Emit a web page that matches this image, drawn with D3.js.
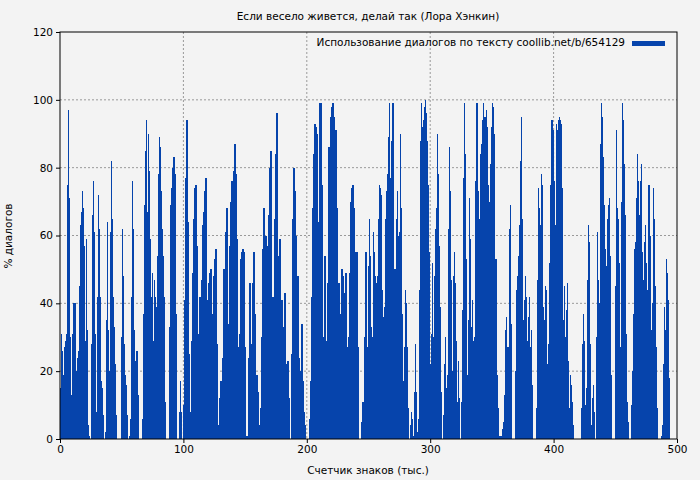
<!DOCTYPE html>
<html><head><meta charset="utf-8">
<script src="https://cdn.jsdelivr.net/npm/d3@7"></script>
<style>body{margin:0;background:#f3f3f3;font-family:"DejaVu Sans",sans-serif}</style>
</head><body><svg id="c" width="700" height="480"></svg>
<script>
// % of dialogue per sample along text (~0.81k chars per sample)
const part1=[15,31,26,19,27,29,31,75,97,71,30,13,31,40,40,40,20,24,26,45,63,67,73,68,57,29,59,32,4,1,0,28,66,76,61,31,8,42,72,62,42,17,15,7,0,2,35,64,32,20,61,82,65,42,33,22,7,0,0,0,0,30,62,48,28,19,16,7,0,1,6,42,76,62,32,23,26,26,13,0,0,0,6,37,69,85,94,67,90,79,59,42,49,29,47,42,39,54,78,89,86,73];
const part2=[62,54,42,11,0,0,0,33,69,74,80,83,83,78,37,0,0,8,17,8,0,10,41,77,94,64,25,8,8,29,49,65,74,75,57,19,31,42,41,47,63,67,73,77,41,29,46,49,50,32,37,48,53,56,28,0,4,12,17,8,24,50,46,61,68,34,25,57,70,76,58,79,87,78,59,27,7,31,53,55,56,55,27,1,0,1,24,46,23,28,46,55,37,14,19,14,4,0,9,30,56,68,50];
const part3=[60,57,57,66,80,85,42,14,42,65,84,96,54,47,59,30,41,22,33,43,22,11,23,12,0,0,25,65,80,73,60,45,48,24,5,20,34,17,8,4,0,0,0,0,6,17,42,68,84,93,92,90,53,64,99,99,75,27,30,54,29,6,46,86,84,95,98,99,95,86,91,68,46,46,23,37,50,48,43,27,49,27,23,30,49,70,74,75,68,55,44,55,27,0,0,0,5,11,9,30,55,27,51];
const part4=[65,54,33,30,61,55,48,46,48,65,75,74,72,44,36,39,65,73,78,89,99,77,88,99,99,50,50,65,73,60,61,90,68,37,17,27,44,40,27,9,0,4,8,6,1,14,28,14,2,6,44,88,99,92,94,98,100,96,88,75,55,22,31,52,30,48,62,68,90,78,57,39,14,0,7,22,30,15,19,62,86,73,47,20,48,55,46,29,11,23,12,0,11,38,77,99,84,53,19,35,71,59];
const part5=[33,41,29,30,76,99,99,73,65,84,87,94,99,95,95,97,92,75,70,81,92,99,98,90,53,53,19,9,1,1,1,3,5,13,32,36,27,27,62,69,34,0,0,0,20,44,48,54,63,82,95,65,35,41,48,42,29,36,42,27,32,16,0,0,0,9,47,74,68,63,78,75,39,35,45,44,22,28,52,75,94,94,91,76,63,93,91,94,95,94,93,74,35,45,30,38,46,23,9,19,16,11,4];
const part6=[0,0,0,0,0,0,0,9,28,37,29,10,15,47,63,58,28,4,12,16,8,0,30,61,47,40,87,99,95,83,69,56,51,65,69,71,54,19,0,0,0,45,91,68,65,52,27,70,99,94,81,66,31,11,5,0,0,10,20,37,56,58,71,84,76,66,76,81,55,47,58,63,52,44,75,75,60,32,40,74,65,45,27,9,0,0,0,1,4,22,39,32,53,49,41,18,0,0,0,0];
const values=[].concat(part1,part2,part3,part4,part5,part6);
const xTicks=[0,100,200,300,400,500];
const yTicks=[0,20,40,60,80,100,120];
const title="Если весело живется, делай так (Лора Хэнкин)";
const legendLabel="Использование диалогов по тексту coollib.net/b/654129";
const xLabel="Счетчик знаков (тыс.)", yLabel="% диалогов";
const color="#0644ac";
const fs=10.5;

const L=60,R=677,T=32,B=439;
const svg=d3.select("#c");
svg.append("rect").attr("width",700).attr("height",480).attr("fill","#f3f3f3");
const x=d3.scaleLinear().domain([0,500]).range([L,R]);
const xb=d3.scaleBand().domain(d3.range(values.length)).range([L,R-3]).padding(0);
const y=d3.scaleLinear().domain([0,120]).range([B,T]);
const g=svg.append("g");
g.selectAll(".gx").data(xTicks.slice(1,-1)).join("line").attr("x1",d=>x(d)).attr("x2",d=>x(d)).attr("y1",T).attr("y2",B).attr("stroke","#999").attr("stroke-dasharray","2,2");
g.selectAll(".gy").data(yTicks.slice(1,-1)).join("line").attr("y1",d=>y(d)).attr("y2",d=>y(d)).attr("x1",L).attr("x2",R).attr("stroke","#999").attr("stroke-dasharray","2,2");
g.selectAll(".b").data(values).join("rect").attr("x",(d,i)=>xb(i)).attr("width",xb.bandwidth()+0.3).attr("y",d=>y(d)).attr("height",d=>B-y(d)).attr("fill",color).attr("shape-rendering","crispEdges");
svg.append("rect").attr("x",L).attr("y",T).attr("width",R-L).attr("height",B-T).attr("fill","none").attr("stroke","#000");
const xa=svg.append("g").attr("transform",`translate(0,${B})`).call(d3.axisBottom(x).tickValues(xTicks).tickSize(4).tickSizeOuter(0));
const ya=svg.append("g").attr("transform",`translate(${L},0)`).call(d3.axisLeft(y).tickValues(yTicks).tickSize(4).tickSizeOuter(0));
[xa,ya].forEach(a=>{a.select(".domain").remove();a.selectAll("text").attr("font-size",fs).attr("font-family","DejaVu Sans").attr("fill","#000");});
svg.append("text").attr("x",368).attr("y",20).attr("text-anchor","middle").attr("font-size",fs).text(title);
svg.append("text").attr("x",625).attr("y",46).attr("text-anchor","end").attr("font-size",fs).text(legendLabel);
svg.append("rect").attr("x",632).attr("y",41).attr("width",33).attr("height",5).attr("fill",color);
svg.append("text").attr("x",368).attr("y",474).attr("text-anchor","middle").attr("font-size",fs).text(xLabel);
svg.append("text").attr("transform","translate(12,236) rotate(-90)").attr("text-anchor","middle").attr("font-size",fs).text(yLabel);
</script></body></html>
